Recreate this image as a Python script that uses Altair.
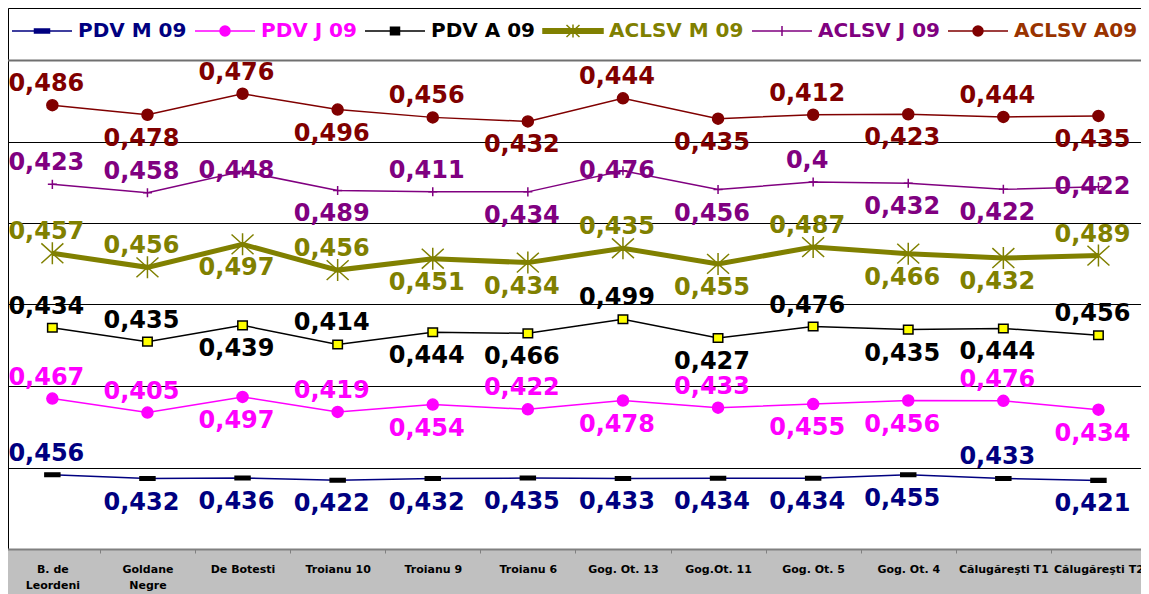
import json
import altair as alt
import pandas as pd

# ---------------- data ----------------
categories = ["B. de\nLeordeni", "Goldane\nNegre", "De Botesti", "Troianu 10",
              "Troianu 9", "Troianu 6", "Gog.  Ot. 13", "Gog.Ot. 11",
              "Gog. Ot. 5", "Gog. Ot. 4", "Călugăreşti T1", "Călugăreşti T2"]

series = ["PDV M 09", "PDV J 09", "PDV A 09", "ACLSV M 09", "ACLSV J 09", "ACLSV A09"]

pdv_m = [0.456, 0.432, 0.436, 0.422, 0.432, 0.435, 0.433, 0.434, 0.434, 0.455, 0.433, 0.421]
pdv_j = [0.467, 0.405, 0.497, 0.419, 0.454, 0.422, 0.478, 0.433, 0.455, 0.456, 0.476, 0.434]
pdv_a = [0.434, 0.435, 0.439, 0.414, 0.444, 0.466, 0.499, 0.427, 0.476, 0.435, 0.444, 0.456]
aclsv_m = [0.457, 0.456, 0.497, 0.456, 0.451, 0.434, 0.435, 0.455, 0.487, 0.466, 0.432, 0.489]
aclsv_j = [0.423, 0.458, 0.448, 0.489, 0.411, 0.434, 0.476, 0.456, 0.4, 0.432, 0.422, 0.422]
aclsv_a = [0.486, 0.478, 0.476, 0.496, 0.456, 0.432, 0.444, 0.435, 0.412, 0.423, 0.444, 0.435]

# data-label placement (a = above the point, b = below, c = on the point)
place_pdv_m = ["a", "b", "b", "b", "b", "b", "b", "b", "b", "b", "a", "b"]
place_pdv_j = ["a", "a", "b", "a", "b", "a", "b", "a", "b", "b", "a", "b"]
place_pdv_a = ["a", "a", "b", "a", "b", "b", "a", "b", "a", "b", "b", "a"]
place_aclsv_m = ["a", "a", "b", "a", "b", "b", "a", "b", "a", "b", "b", "a"]
place_aclsv_j = ["a", "a", "c", "b", "a", "b", "c", "b", "a", "b", "b", "c"]
place_aclsv_a = ["a", "b", "a", "b", "a", "b", "a", "b", "a", "b", "a", "b"]

values = [pdv_m, pdv_j, pdv_a, aclsv_m, aclsv_j, aclsv_a]
places = [place_pdv_m, place_pdv_j, place_pdv_a, place_aclsv_m, place_aclsv_j, place_aclsv_a]

# ---------------- styles ----------------
line_colors = ["#000080", "#FF00FF", "#000000", "#808000", "#800080", "#800000"]
legend_text_colors = ["#000080", "#FF00FF", "#000000", "#808000", "#800080", "#993300"]
marker_fills = ["#000000", "#FF00FF", "#FFFF00", "#808000", "#800080", "#800000"]
marker_strokes = ["#000000", "#FF00FF", "#000000", "#808000", "#800080", "#800000"]
marker_shapes = [
    "M-1.36,-0.32H1.36V0.32H-1.36Z",
    "circle",
    "M-0.86,-0.78H0.86V0.78H-0.86Z",
    "M-2,-1.8L2,1.8M-2,1.8L2,-1.8M0,-2V2",
    "M-0.82,0H0.82M0,-0.82V0.82",
    "circle",
]
legend_shapes = [
    "M-3,0H-0.75M0.75,0H3M-0.75,-0.2H0.75V0.2H-0.75Z",
    "M-3,0H-0.5M0.5,0H3M0.5,0A0.5,0.5,0,1,1,-0.5,0A0.5,0.5,0,1,1,0.5,0Z",
    "M-3,0H-0.45M0.45,0H3M-0.45,-0.38H0.45V0.38H-0.45Z",
    "M-3,-0.22H3V0.22H-3ZM-0.65,-0.6L0.65,0.6M-0.65,0.6L0.65,-0.6M0,-0.65V0.65",
    "M-3,0H3M0,-0.5V0.5",
    "M-3,0H-0.5M0.5,0H3M0.5,0A0.5,0.5,0,1,1,-0.5,0A0.5,0.5,0,1,1,0.5,0Z",
]

rows = []
for si, (name, vals, pl) in enumerate(zip(series, values, places)):
    for ci, (cat, v, p) in enumerate(zip(categories, vals, pl)):
        rows.append(dict(cat=cat, ci=ci, series=name, si=si, value=v, place=p,
                         label=str(v).replace(".", ",")))
df = pd.DataFrame(rows)
df = df.sort_values(["si", "ci"])
df["cum"] = df.groupby("ci")["value"].cumsum()

PX_PER_UNIT = 163.0
PLOT_H = 541
PLOT_W = 1133
series_idx = list(range(len(series)))

idx = "indexof(%s, datum.value)" % json.dumps(series)
def pick(arr):
    return {"expr": "%s[%s]" % (json.dumps(arr), idx)}

legend = alt.Legend(
    orient="none", legendX=4, legendY=12, direction="horizontal", columns=6,
    title=None, symbolSize=400, symbolOffset=19,
    symbolType=pick(legend_shapes),
    symbolFillColor=pick(marker_fills),
    symbolStrokeColor=pick(line_colors),
    symbolStrokeWidth=1.5,
    symbolOpacity=1,
    labelOffset=25, labelFont="DejaVu Sans", labelFontSize=20,
    labelFontWeight="bold", labelLimit=0, columnPadding=5, padding=0,
    labelColor=pick(legend_text_colors),
)

x_enc = alt.X(
    "cat:N", sort=categories, bandPosition=0.5, title=None,
    scale=alt.Scale(type="band", domain=categories, range=[-3.2, 1138],
                    paddingInner=0, paddingOuter=0),
    axis=alt.Axis(labelExpr="split(datum.label, '\\n')", labelFont="DejaVu Sans",
                  labelFontSize=11, labelFontWeight="bold", labelColor="black",
                  labelAngle=0, labelPadding=10, labelLineHeight=16,
                  labelOverlap=False, labelLimit=0,
                  tickBand="extent", tickSize=4, tickColor="#808080",
                  domainColor="#808080", domainWidth=2, grid=False),
)
y_enc = alt.Y(
    "cum:Q", title=None,
    scale=alt.Scale(domain=[0, PLOT_H / PX_PER_UNIT], nice=False, zero=True),
    axis=alt.Axis(values=[0.5, 1.0, 1.5, 2.0, 2.5, 3.0], grid=True, labels=False,
                  ticks=False, domain=False,
                  gridColor=alt.condition("datum.value == 3", alt.value("#707070"), alt.value("#000000")),
                  gridWidth=alt.condition("datum.value == 3", alt.value(2), alt.value(1))),
)

color_scale = alt.Scale(domain=series, range=line_colors)
base = alt.Chart(df)

lines = base.mark_line().encode(
    x=x_enc, y=y_enc,
    color=alt.Color("series:N", scale=color_scale, legend=legend),
    strokeWidth=alt.condition("datum.series == 'ACLSV M 09'", alt.value(5), alt.value(1.5)),
)

points = base.mark_point(size=121, strokeWidth=1.5, opacity=1).encode(
    x=x_enc, y=y_enc,
    shape=alt.Shape("si:O", scale=alt.Scale(domain=series_idx, range=marker_shapes), legend=None),
    fill=alt.Fill("si:O", scale=alt.Scale(domain=series_idx, range=marker_fills), legend=None),
    stroke=alt.Stroke("si:O", scale=alt.Scale(domain=series_idx, range=marker_strokes), legend=None),
)

def labels(code, dy):
    return alt.Chart(df[df["place"] == code]).mark_text(
        font="DejaVu Sans", fontSize=24, fontWeight="bold", dx=-6, dy=dy,
        align="center", baseline="middle",
    ).encode(
        x=x_enc, y=y_enc, text="label:N",
        color=alt.Color("series:N", scale=color_scale, legend=None),
    )

chart = alt.layer(
    lines, points, labels("a", -21), labels("b", 24), labels("c", 0)
).properties(
    width=PLOT_W, height=PLOT_H,
    autosize=alt.AutoSizeParams(type="none"),
    padding={"left": 0, "top": 0, "right": 0, "bottom": 48},
    background="#C0C0C0",
).configure_view(fill="white", stroke="black", strokeWidth=1)

chart.save("out.html", embed_options={"renderer": "svg", "actions": False})
